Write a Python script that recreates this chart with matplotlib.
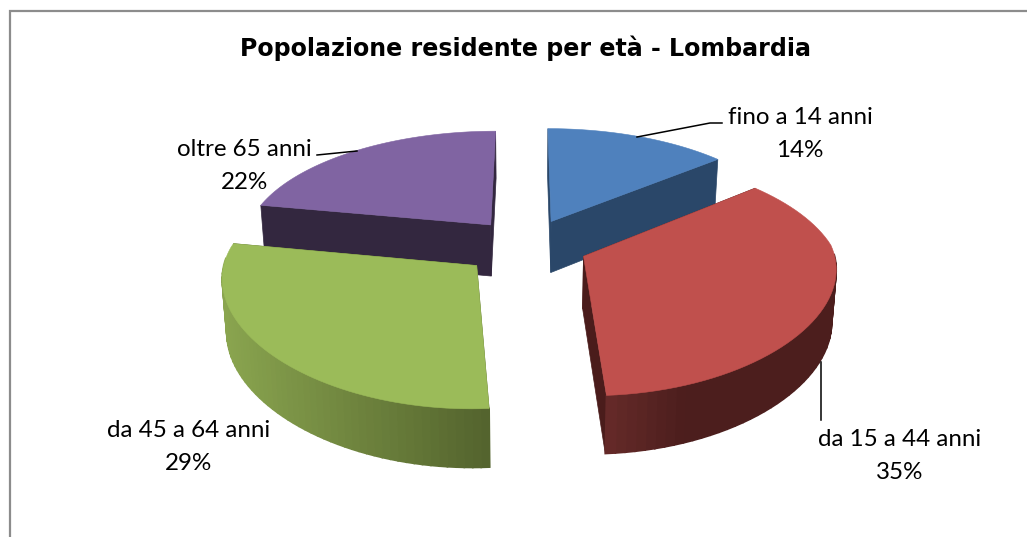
import numpy as np
import matplotlib
matplotlib.use('Agg')
import matplotlib.pyplot as plt
from matplotlib.colors import to_rgb

categories = ['fino a 14 anni', 'da 15 a 44 anni', 'da 45 a 64 anni', 'oltre 65 anni']
values = [14, 35, 29, 22]
top_colors = ['#4F81BD', '#C0504D', '#9BBB59', '#8064A2']
face_colors = ['#2A4769', '#4A1C1B', '#55652F', '#33273F']
wall_left = ['#2A4769', '#672B29', '#8AA54F', '#33273F']
wall_right = ['#2A4769', '#4C1E1D', '#54642E', '#33273F']
wall_fade = [1, 2.8, 1, 1]
label_pos = [(800, 134), (900, 456), (189, 447), (244, 166)]
leaders = [[(637, 137), (710, 123), (722, 123)],
           [(821, 362), (821, 420)],
           [],
           [(357, 151), (317, 155)]]
draw_order = [3, 0, 2, 1]

# pie geometry, in pixels of the picture
cx, cy = 527, 245
rx, ry = 249, 114
persp_y = 0.155
explode = [0.235, 0.245, 0.265, 0.235]
depth = 52


def project(x, y, down=False):
    y = np.asarray(y, dtype=float)
    wx = 1 / (1 + np.where(y > 0, 0.16, 0.09) * y)
    wy = 1 / (1 + persp_y * y)
    sx = cx + rx * x * wx
    sy = cy - ry * y * wy
    if down:
        sx = cx + (sx - cx) * 0.985
        sy = sy + depth * wy ** 0.6
    return sx, sy


fig = plt.figure(figsize=(10.27, 5.37), dpi=100)
ax = fig.add_axes([0, 0, 1, 1])
ax.set_xlim(0, 1027)
ax.set_ylim(537, 0)
ax.axis('off')

# chart frame
ax.plot([9.5, 9.5, 1027], [537, 11, 11], color='#8C8C8C', lw=1.6, solid_joinstyle='miter')

shares = np.array(values) / sum(values) * 2 * np.pi
ends = np.cumsum(shares)
starts = ends - shares

for i in draw_order:
    mid = (starts[i] + ends[i]) / 2
    ox, oy = explode[i] * np.sin(mid), explode[i] * np.cos(mid)
    t = np.linspace(starts[i], ends[i], 60)
    ax_x = ox + np.sin(t)
    ax_y = oy + np.cos(t)

    # flat cut faces
    for a in [starts[i], ends[i]]:
        x0, y0 = project(ox, oy)
        x1, y1 = project(ox + np.sin(a), oy + np.cos(a))
        x2, y2 = project(ox + np.sin(a), oy + np.cos(a), True)
        x3, y3 = project(ox, oy, True)
        ax.fill([x0, x1, x2, x3], [y0, y1, y2, y3], color=face_colors[i], lw=0.5, zorder=2)

    # outer wall, shaded in small strips, back half is hidden anyway
    tx, ty = project(ax_x, ax_y)
    bx, by = project(ax_x, ax_y, True)
    c0, c1 = np.array(to_rgb(wall_left[i])), np.array(to_rgb(wall_right[i]))
    front = ax_y < oy + 0.35
    lo, hi = tx[front].min() if front.any() else tx.min(), tx[front].max() if front.any() else tx.max()
    for j in range(len(t) - 1):
        if np.cos(t[j]) > 0.05:
            continue
        f = np.clip((tx[j] - lo) / (hi - lo) * wall_fade[i], 0, 1)
        ax.fill([tx[j], tx[j + 1], bx[j + 1], bx[j]], [ty[j], ty[j + 1], by[j + 1], by[j]],
                color=c0 + (c1 - c0) * f, lw=1.2, zorder=2)

    # top of the slice
    px, py = project(ox, oy)
    ax.fill(np.r_[px, tx], np.r_[py, ty], color=top_colors[i], lw=0.4, zorder=2)

for line in leaders:
    if line:
        xs, ys = zip(*line)
        ax.plot(xs, ys, color='black', lw=1.1, zorder=3)

for cat, val, pos in zip(categories, values, label_pos):
    ax.text(pos[0], pos[1], f'{cat}\n{val}%', ha='center', va='center', fontsize=17.4,
            family='Lato', linespacing=1.72, color='black', zorder=4)

ax.text(525, 48, 'Popolazione residente per età - Lombardia', ha='center', va='center',
        fontsize=17.1, fontweight='bold', family='DejaVu Sans', color='black')

fig.savefig('out.png', dpi=100)
